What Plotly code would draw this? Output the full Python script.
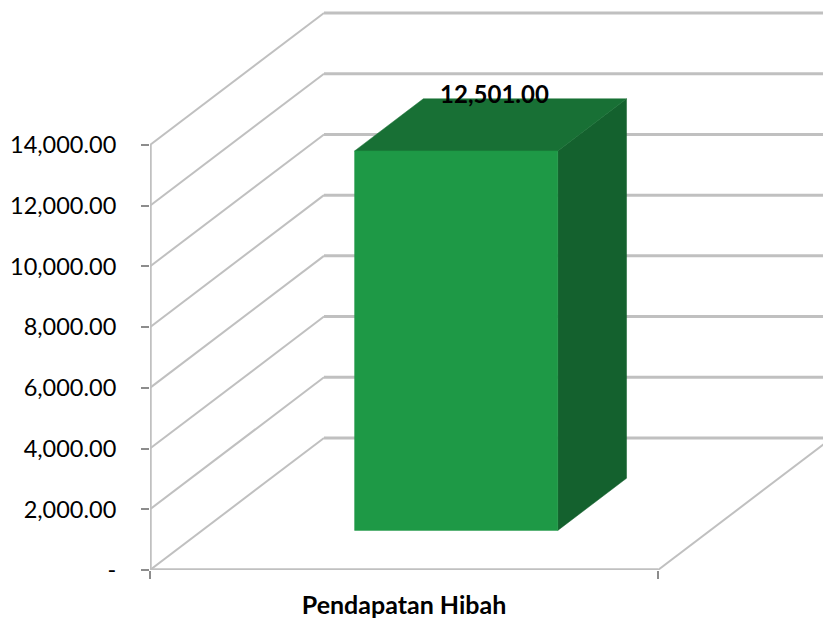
import plotly.graph_objects as go

categories = ["Pendapatan Hibah"]
values = [12501.00]
tick_values = [0, 2000, 4000, 6000, 8000, 10000, 12000, 14000]
tick_labels = ["-", "2,000.00", "4,000.00", "6,000.00", "8,000.00", "10,000.00", "12,000.00", "14,000.00"]

FONT = "Lato"
W, H = 823, 620
L, B = 150, 50          # plot-area margins
UNIT_PX = 508           # px for one category
VAL_PX = 425 / 14000    # px per value unit
DEPTH_X = 174 / UNIT_PX      # back wall shift, x units
DEPTH_Y = 132 / VAL_PX       # back wall shift, y units
BAR_W = 0.40
D0, D1 = 0.30, 0.695    # bar depth span, as fraction of floor depth
LABEL_DX, LABEL_DY = 0.52, 0.705
X_MAX = -0.5 + (W - L) / UNIT_PX
Y_MAX = (H - B) / VAL_PX


def proj(x, y, d):
    return x + d * DEPTH_X, y + d * DEPTH_Y


def poly(points, color):
    xs, ys = zip(*points)
    return go.Scatter(x=list(xs) + [xs[0]], y=list(ys) + [ys[0]], mode="lines", fill="toself",
                      fillcolor=color, line=dict(color=color, width=0.5),
                      hoverinfo="skip", showlegend=False)


def line(xs, ys, color="#c0c0c0", width=2):
    return go.Scatter(x=xs, y=ys, mode="lines", line=dict(color=color, width=width),
                      hoverinfo="skip", showlegend=False)


fig = go.Figure()

# back-wall gridlines and side-wall diagonals
for t in tick_values:
    bx, by = proj(-0.5, t, 1)
    fig.add_trace(line([-0.5, bx], [t, by], width=2))
    fig.add_trace(line([bx, X_MAX], [by, by], width=3))

# floor edges and the vertical axis
fx, fy = proj(0.5, 0, 1)
fig.add_trace(line([0.5, fx], [0, fy], width=2))
fig.add_trace(line([-0.5, 0.5], [0, 0], width=3.5))
fig.add_trace(line([-0.5, -0.5], [0, tick_values[-1]], width=3.5))

# the 3D bar
for i, (c, v) in enumerate(zip(categories, values)):
    xl, xr = i - BAR_W / 2, i + BAR_W / 2
    f00 = proj(xl, 0, D0); f10 = proj(xr, 0, D0)
    f01 = proj(xl, v, D0); f11 = proj(xr, v, D0)
    b10 = proj(xr, 0, D1); b01 = proj(xl, v, D1); b11 = proj(xr, v, D1)
    fig.add_trace(poly([f10, b10, b11, f11], "#14612e"))
    fig.add_trace(poly([f01, f11, b11, b01], "#187035"))
    fig.add_trace(poly([f00, f10, f11, f01], "#1e9946"))
    lx = proj(i, v, LABEL_DX)[0]
    ly = proj(i, v, LABEL_DY)[1]
    fig.add_trace(go.Scatter(x=[lx], y=[ly], mode="text", text=[f"{v:,.2f}"],
                             textposition="middle center",
                             textfont=dict(family=FONT, size=24, color="#000000", weight="bold"),
                             hoverinfo="skip", showlegend=False))

fig.update_layout(
    width=W, height=H, autosize=False,
    margin=dict(l=L, r=0, t=0, b=B, pad=0),
    paper_bgcolor="#ffffff", plot_bgcolor="#ffffff",
    showlegend=False,
    xaxis=dict(range=[-0.5, X_MAX], showgrid=False, zeroline=False, showline=False,
               tickmode="array", tickvals=list(range(len(categories))), ticktext=categories,
               ticks="outside", ticklen=0, tickcolor="rgba(0,0,0,0)",
               tickfont=dict(family=FONT, size=25, color="#000000", weight="bold"),
               ticklabelstandoff=13,
               minor=dict(tickmode="array", tickvals=[-0.5, 0.5], ticks="outside", ticklen=8,
                          tickcolor="#8c8c8c", tickwidth=1.5, showgrid=False)),
    yaxis=dict(range=[0, Y_MAX], showgrid=False, zeroline=False, showline=False,
               tickmode="array", tickvals=tick_values, ticktext=tick_labels,
               ticks="outside", ticklen=8, tickcolor="#8c8c8c", tickwidth=1.5,
               tickfont=dict(family=FONT, size=23.5, color="#000000"),
               ticklabelstandoff=20),
)

fig.write_html("out.html", config={"displayModeBar": False},
               post_script="document.body.style.margin='0';document.documentElement.style.overflow='hidden';")
